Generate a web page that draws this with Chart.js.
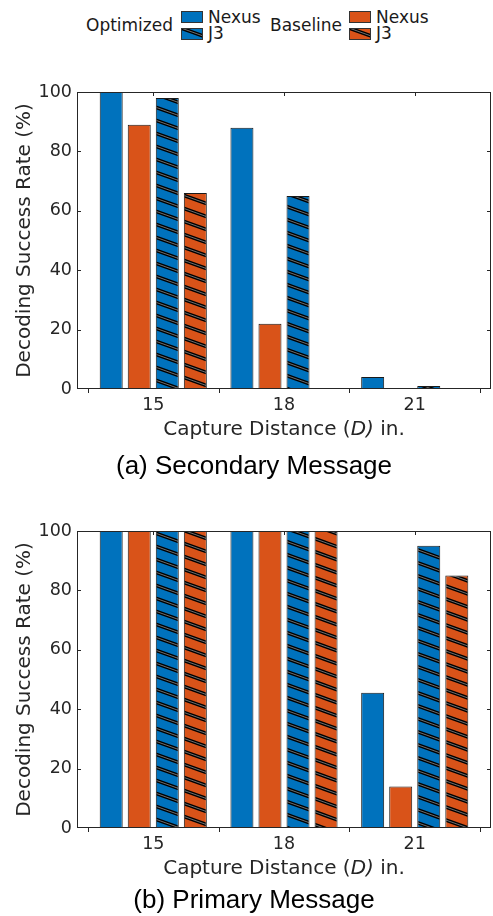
<!DOCTYPE html>
<html>
<head>
<meta charset="utf-8">
<script src="https://cdn.jsdelivr.net/npm/chart.js@4.4.1/dist/chart.umd.min.js"></script>
<style>
  body { margin: 0; background: #fff; }
  #page { position: relative; width: 493px; height: 916px; overflow: hidden; font-family: 'DejaVu Sans', sans-serif; color: #262626; }
  canvas.chart { position: absolute; left: 0; }
  .txt { position: absolute; white-space: nowrap; }
  .leg { font-size: 17px; line-height: 20px; color: #1a1a1a; }
  canvas.swatch { position: absolute; }
  .xtitle { left: 77px; width: 414px; text-align: center; font-size: 20px; line-height: 24px; }
  .caption { left: 0; width: 508px; text-align: center; font-family: 'Liberation Sans', Arial, sans-serif; font-size: 26px; line-height: 30px; color: #000; }
</style>
</head>
<body>
<div id="page">
  <span class="txt leg" style="left:86px; top:15px;">Optimized</span>
  <canvas class="swatch" id="sw-opt-nexus" width="22" height="12" style="left:181px; top:11px;"></canvas>
  <canvas class="swatch" id="sw-opt-j3" width="22" height="12" style="left:181px; top:28px;"></canvas>
  <span class="txt leg" style="left:208px; top:7px;">Nexus</span>
  <span class="txt leg" style="left:208px; top:23px;">J3</span>
  <span class="txt leg" style="left:270px; top:15px;">Baseline</span>
  <canvas class="swatch" id="sw-base-nexus" width="22" height="12" style="left:349px; top:11px;"></canvas>
  <canvas class="swatch" id="sw-base-j3" width="22" height="12" style="left:349px; top:28px;"></canvas>
  <span class="txt leg" style="left:376px; top:7px;">Nexus</span>
  <span class="txt leg" style="left:376px; top:23px;">J3</span>

  <canvas class="chart" id="chart-secondary" width="493" height="343" style="top:77px;"></canvas>
  <div class="txt xtitle" style="top:416px;">Capture Distance (<i>D)</i> in.</div>
  <div class="txt caption" style="top:450px;">(a) Secondary Message</div>

  <canvas class="chart" id="chart-primary" width="493" height="343" style="top:516px;"></canvas>
  <div class="txt xtitle" style="top:855px;">Capture Distance (<i>D)</i> in.</div>
  <div class="txt caption" style="top:884px;">(b) Primary Message</div>
</div>

<script>
// capture distance (in.)
const distances = [15, 18, 21];

// (a) secondary message, success rate %
const secOptNexus = [100, 88, 4];
const secBaseNexus = [89, 22, 0];
const secOptJ3 = [98, 65, 1];
const secBaseJ3 = [66, 0, 0];

// (b) primary message, success rate %
const priOptNexus = [100, 100, 45.5];
const priBaseNexus = [100, 100, 14];
const priOptJ3 = [100, 100, 95];
const priBaseJ3 = [100, 100, 85];

const yTickValues = [0, 20, 40, 60, 80, 100];
const boundaryTicks = [13.5, 16.5, 19.5, 22.5];

const BLUE = '#0072BD';
const ORANGE = '#D95319';
const AXIS = '#262626';

Chart.defaults.font.family = "'DejaVu Sans', sans-serif";
Chart.defaults.color = AXIS;

// slanted double-line hatch like the matlab hatchfill
function makeHatch(color) {
    const c = document.createElement('canvas');
    c.width = 36;
    c.height = 13;
    const g = c.getContext('2d');
    g.fillStyle = color;
    g.fillRect(0, 0, 36, 13);
    for (const dy of [-13, 0, 13]) {
        g.strokeStyle = '#000';
        g.lineWidth = 3.6;
        g.beginPath();
        g.moveTo(-36, dy - 13);
        g.lineTo(72, dy + 26);
        g.stroke();
        g.strokeStyle = 'rgba(200,200,200,0.7)';
        g.lineWidth = 0.8;
        g.beginPath();
        g.moveTo(-36, dy - 13);
        g.lineTo(72, dy + 26);
        g.stroke();
    }
    return c;
}

function drawSwatch(id, color, hatched) {
    const cv = document.getElementById(id);
    const g = cv.getContext('2d');
    if (hatched) {
        g.fillStyle = g.createPattern(makeHatch(color), 'repeat');
    } else {
        g.fillStyle = color;
    }
    g.fillRect(0, 0, cv.width, cv.height);
    g.strokeStyle = '#333';
    g.lineWidth = 1;
    g.strokeRect(0.5, 0.5, cv.width - 1, cv.height - 1);
}

drawSwatch('sw-opt-nexus', BLUE, false);
drawSwatch('sw-opt-j3', BLUE, true);
drawSwatch('sw-base-nexus', ORANGE, false);
drawSwatch('sw-base-j3', ORANGE, true);

// box around the axes plus the small tick marks
const framePlugin = {
    id: 'frame',
    afterDatasetsDraw(chart) {
        const { ctx, chartArea: a, scales: { x, y } } = chart;
        ctx.save();
        ctx.strokeStyle = AXIS;
        ctx.lineWidth = 1;
        ctx.beginPath();
        distances.forEach(v => {
            const px = Math.round(x.getPixelForValue(v)) + 0.5;
            ctx.moveTo(px, a.top);
            ctx.lineTo(px, a.top + 4);
        });
        boundaryTicks.forEach(v => {
            const px = Math.round(x.getPixelForValue(v)) + 0.5;
            ctx.moveTo(px, a.bottom);
            ctx.lineTo(px, a.bottom + 4);
        });
        yTickValues.slice(1, -1).forEach(v => {
            const py = Math.round(y.getPixelForValue(v)) + 0.5;
            ctx.moveTo(a.left, py);
            ctx.lineTo(a.left + 4, py);
            ctx.moveTo(a.right, py);
            ctx.lineTo(a.right - 4, py);
        });
        ctx.stroke();
        ctx.strokeRect(Math.round(a.left) + 0.5, Math.round(a.top) + 0.5,
            Math.round(a.width) - 1, Math.round(a.height) - 1);
        ctx.restore();
    }
};

function buildPanel(canvasId, optNexus, baseNexus, optJ3, baseJ3) {
    const toPoints = vals => distances.map((d, i) => ({ x: d, y: vals[i] }));
    const series = [
        { label: 'Optimized Nexus', values: optNexus, fill: BLUE },
        { label: 'Baseline Nexus', values: baseNexus, fill: ORANGE },
        { label: 'Optimized J3', values: optJ3, fill: makeHatch(BLUE) },
        { label: 'Baseline J3', values: baseJ3, fill: makeHatch(ORANGE) }
    ];
    const canvas = document.getElementById(canvasId);
    const ctx = canvas.getContext('2d');

    return new Chart(ctx, {
        type: 'bar',
        data: {
            datasets: series.map(s => ({
                label: s.label,
                data: toPoints(s.values),
                backgroundColor: typeof s.fill === 'string' ? s.fill : ctx.createPattern(s.fill, 'repeat'),
                borderColor: '#1a1a1a',
                borderWidth: 1,
                categoryPercentage: 0.858,
                barPercentage: 0.82
            }))
        },
        options: {
            responsive: false,
            animation: false,
            layout: { padding: { top: 0, right: 2, left: 0, bottom: 0 } },
            plugins: {
                legend: { display: false },
                tooltip: { enabled: false }
            },
            scales: {
                x: {
                    type: 'linear',
                    min: 13.25,
                    max: 22.75,
                    offset: false,
                    grid: { display: false, offset: false, drawTicks: false, tickLength: 0 },
                    border: { display: false },
                    afterBuildTicks: scale => {
                        scale.ticks = distances.map(v => ({ value: v }));
                    },
                    afterFit: scale => { scale.height = 31; },
                    ticks: {
                        autoSkip: false,
                        maxRotation: 0,
                        padding: 6,
                        font: { size: 17.5, lineHeight: '20px' },
                        callback: v => String(v)
                    }
                },
                y: {
                    min: 0,
                    max: 100,
                    grid: { display: false, drawTicks: false, tickLength: 0 },
                    border: { display: false },
                    afterBuildTicks: scale => {
                        scale.ticks = yTickValues.map(v => ({ value: v }));
                    },
                    afterFit: scale => { scale.width = 77; },
                    ticks: {
                        padding: 5,
                        font: { size: 17.5, lineHeight: '20px' }
                    },
                    title: {
                        display: true,
                        text: 'Decoding Success Rate (%)',
                        font: { size: 20 },
                        padding: { top: 13, bottom: 0 }
                    }
                }
            }
        },
        plugins: [framePlugin]
    });
}

buildPanel('chart-secondary', secOptNexus, secBaseNexus, secOptJ3, secBaseJ3);
buildPanel('chart-primary', priOptNexus, priBaseNexus, priOptJ3, priBaseJ3);
</script>
</body>
</html>
